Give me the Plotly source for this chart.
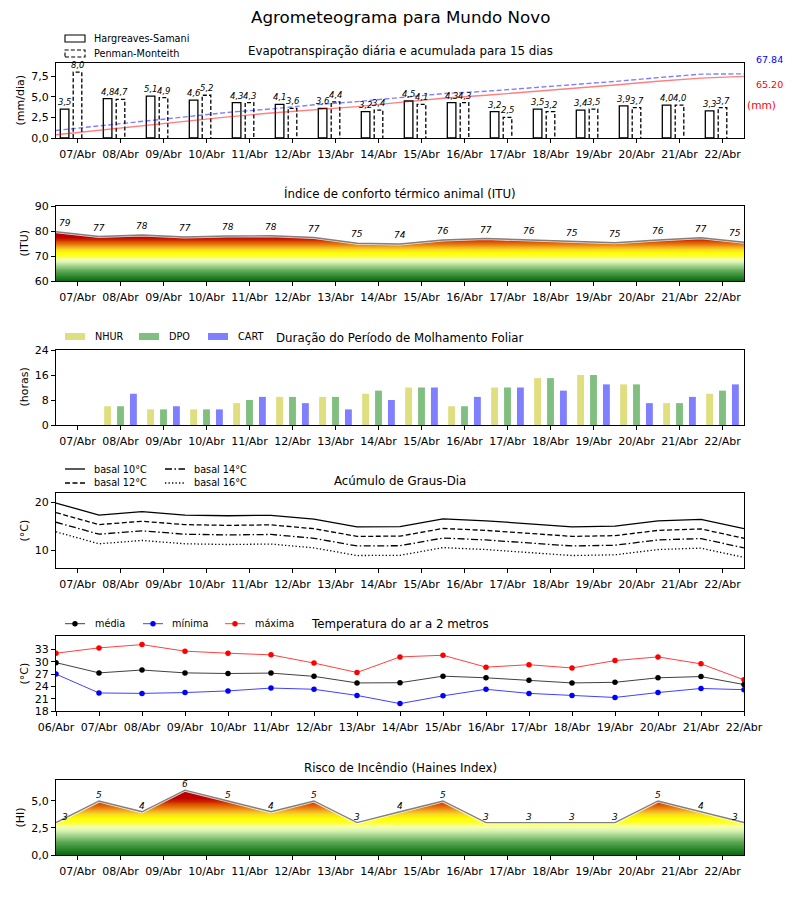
import plotly.graph_objects as go

# ---------------- data ----------------
dias_bar = ['07/Abr', '08/Abr', '09/Abr', '10/Abr', '11/Abr', '12/Abr', '13/Abr', '14/Abr',
            '15/Abr', '16/Abr', '17/Abr', '18/Abr', '19/Abr', '20/Abr', '21/Abr', '22/Abr']
dias_temp = ['06/Abr'] + dias_bar

et_hs = [3.5, 4.8, 5.1, 4.6, 4.3, 4.1, 3.6, 3.2, 4.5, 4.3, 3.2, 3.5, 3.4, 3.9, 4.0, 3.3]
et_pm = [8.0, 4.7, 4.9, 5.2, 4.3, 3.6, 4.4, 3.4, 4.1, 4.3, 2.5, 3.2, 3.5, 3.7, 4.0, 3.7]
cum_hs = [3.5, 8.3, 13.4, 18.0, 22.3, 26.4, 30.0, 33.2, 37.7, 42.0, 45.2, 48.7, 52.1, 56.0, 60.0, 63.3, 65.20]
cum_pm = [8.0, 12.7, 17.6, 22.8, 27.1, 30.7, 35.1, 38.5, 42.6, 46.9, 49.4, 52.6, 56.1, 59.8, 63.8, 67.5, 67.84]

itu = [79.7, 77.8, 78.4, 77.6, 78.0, 78.1, 77.4, 75.1, 74.8, 76.4, 77.0, 76.4, 75.6, 75.3, 76.4, 77.3, 75.5]

nhur = [0, 6, 5, 5, 7, 9, 9, 10, 12, 6, 12, 15, 16, 13, 7, 10]
dpo = [0, 6, 5, 5, 8, 9, 9, 11, 12, 6, 12, 15, 16, 13, 7, 11]
cart = [0, 10, 6, 5, 9, 7, 5, 8, 12, 9, 12, 11, 13, 7, 9, 13]

gd10 = [19.8, 17.3, 18.0, 17.3, 17.15, 17.25, 16.45, 14.85, 14.9, 16.5, 16.1, 15.5, 14.85, 15.0, 16.1, 16.4, 14.45]
gd12 = [17.8, 15.3, 16.0, 15.3, 15.15, 15.25, 14.45, 12.85, 12.9, 14.5, 14.1, 13.5, 12.85, 13.0, 14.1, 14.4, 12.45]
gd14 = [15.8, 13.3, 14.0, 13.3, 13.15, 13.25, 12.45, 10.85, 10.9, 12.5, 12.1, 11.5, 10.85, 11.0, 12.1, 12.4, 10.45]
gd16 = [13.8, 11.3, 12.0, 11.3, 11.15, 11.25, 10.45, 8.85, 8.9, 10.5, 10.1, 9.5, 8.85, 9.0, 10.1, 10.4, 8.45]

t_med = [29.8, 27.3, 28.0, 27.3, 27.15, 27.25, 26.45, 24.85, 24.9, 26.5, 26.1, 25.5, 24.85, 25.0, 26.1, 26.4, 24.45]
t_min = [27.0, 22.4, 22.3, 22.5, 22.9, 23.6, 23.3, 21.8, 19.8, 21.7, 23.3, 22.3, 21.8, 21.3, 22.5, 23.5, 23.2]
t_max = [32.1, 33.4, 34.2, 32.6, 32.1, 31.7, 29.7, 27.4, 31.2, 31.6, 28.7, 29.3, 28.5, 30.3, 31.2, 29.5, 25.6]

haines = [3, 5, 4, 6, 5, 4, 5, 3, 4, 5, 3, 3, 3, 3, 5, 4, 3]

# ---------------- style ----------------
FONT = 'DejaVu Sans'
W, H = 800, 900
XL, XR = 56, 744
PANELS = [(63, 138), (206, 281), (350, 425), (493, 568), (636, 711), (780, 855)]
GRAD = [[0.0, '#0b670b'], [0.1, '#2e8a2e'], [0.2, '#5fa955'], [0.3, '#a2d48e'],
        [0.375, '#d9f3b2'], [0.43, '#f4ffb0'], [0.5, '#ffff30'], [0.56, '#ffff00'],
        [0.625, '#f8dc20'], [0.675, '#f4b020'], [0.725, '#e88010'], [0.775, '#dc5800'],
        [0.825, '#cc2200'], [0.875, '#c00000'], [1.0, '#b00000']]


def px(x):
    return x / W


def py(y):
    return 1 - y / H


fig = go.Figure()
n = len(dias_bar)
xs = list(range(len(dias_temp)))

# ---- panel 1: ET ----
fig.add_trace(go.Bar(x=[i + 0.2 for i in range(n)], y=et_hs, width=0.2,
                     marker=dict(color='white', line=dict(color='black', width=1.3)),
                     xaxis='x', yaxis='y', showlegend=False))
ox, oy = [], []
for i, v in enumerate(et_pm):
    ox += [i + 0.4, i + 0.4, i + 0.6, i + 0.6, None]
    oy += [0, v, v, 0, None]
fig.add_trace(go.Scatter(x=ox, y=oy, mode='lines', fill='toself', fillcolor='white',
                         line=dict(color='black', width=1.3, dash='4px,2.2px'),
                         xaxis='x', yaxis='y', showlegend=False))
fig.add_trace(go.Scatter(x=xs, y=cum_hs, mode='lines', line=dict(color='rgba(255,0,0,0.5)', width=1.4),
                         xaxis='x', yaxis='y7', showlegend=False))
fig.add_trace(go.Scatter(x=xs, y=cum_pm, mode='lines',
                         line=dict(color='rgba(0,0,255,0.5)', width=1.4, dash='5px,2.5px'),
                         xaxis='x', yaxis='y7', showlegend=False))

ann = []
for i, (a, b) in enumerate(zip(et_hs, et_pm)):
    for xv, v in ((i + 0.2, a), (i + 0.5, b)):
        ann.append(dict(x=xv, y=v, xref='x', yref='y', text=f'{v:.1f}'.replace('.', ','),
                        showarrow=False, yshift=7, font=dict(family=FONT, size=8.5, style='italic', color='black')))

# ---- panel 2: ITU ----
fig.add_trace(go.Scatter(x=xs, y=itu, mode='lines', fill='tozeroy', line=dict(width=0),
                         fillgradient=dict(type='vertical', colorscale=GRAD, start=60, stop=80),
                         xaxis='x2', yaxis='y2', showlegend=False))
fig.add_trace(go.Scatter(x=xs, y=itu, mode='lines', line=dict(color='rgba(255,255,255,0.8)', width=3.2),
                         xaxis='x2', yaxis='y2', showlegend=False))
fig.add_trace(go.Scatter(x=xs, y=itu, mode='lines', line=dict(color='#808080', width=1.4),
                         xaxis='x2', yaxis='y2', showlegend=False))
last = len(xs) - 1
for i, v in enumerate(itu):
    xv = i + (0.2 if i == 0 else (-0.2 if i == last else 0))
    ann.append(dict(x=xv, y=v, xref='x2', yref='y2', text=str(int(v)), showarrow=False, yshift=9,
                    font=dict(family=FONT, size=9, style='italic', color='black')))

# ---- panel 3: molhamento ----
for vals, off, col in ((nhur, 0.2, '#dfdf80'), (dpo, 0.5, '#80bf80'), (cart, 0.8, '#8080ff')):
    fig.add_trace(go.Bar(x=[i + off for i in range(n)], y=vals, width=0.16,
                         marker=dict(color=col, line=dict(width=0)),
                         xaxis='x3', yaxis='y3', showlegend=False))

# ---- panel 4: graus-dia ----
GD_DASH = ['solid', '5px,2.5px', '7px,2.5px,1.5px,2.5px', '1.3px,2.2px']
for vals, d in zip((gd10, gd12, gd14, gd16), GD_DASH):
    fig.add_trace(go.Scatter(x=xs, y=vals, mode='lines', line=dict(color='black', width=1.3, dash=d),
                             xaxis='x4', yaxis='y4', showlegend=False))

# ---- panel 5: temperatura ----
for vals, lc, mc in ((t_med, 'rgba(0,0,0,0.75)', 'black'), (t_min, 'rgba(0,0,255,0.75)', '#0000ff'),
                     (t_max, 'rgba(255,0,0,0.75)', '#ff0000')):
    fig.add_trace(go.Scatter(x=xs, y=vals, mode='lines+markers', line=dict(color=lc, width=1),
                             marker=dict(color=mc, size=5.5), xaxis='x5', yaxis='y5', showlegend=False))

# ---- panel 6: haines ----
fig.add_trace(go.Scatter(x=xs, y=haines, mode='lines', fill='tozeroy', line=dict(width=0),
                         fillgradient=dict(type='vertical', colorscale=GRAD, start=0, stop=6),
                         xaxis='x6', yaxis='y6', showlegend=False))
fig.add_trace(go.Scatter(x=xs, y=haines, mode='lines', line=dict(color='rgba(255,255,255,0.8)', width=3.2),
                         xaxis='x6', yaxis='y6', showlegend=False))
fig.add_trace(go.Scatter(x=xs, y=haines, mode='lines', line=dict(color='#808080', width=1.4),
                         xaxis='x6', yaxis='y6', showlegend=False))
for i, v in enumerate(haines):
    xv = i + (0.2 if i == 0 else (-0.2 if i == last else 0))
    ann.append(dict(x=xv, y=v, xref='x6', yref='y6', text=str(v), showarrow=False, yshift=6,
                    font=dict(family=FONT, size=9, style='italic', color='black')))

# ---------------- axes ----------------
layout = dict(width=W, height=H, margin=dict(l=0, r=0, t=0, b=0, pad=0, autoexpand=False),
              paper_bgcolor='white', plot_bgcolor='white', barmode='overlay',
              font=dict(family=FONT, color='black'), showlegend=False)
ycfg = [
    dict(range=[0, 9.12], tickvals=[0, 2.5, 5, 7.5], ticktext=['0,0', '2,5', '5,0', '7,5']),
    dict(range=[60, 90], tickvals=[60, 70, 80, 90], ticktext=['60', '70', '80', '90']),
    dict(range=[0, 24], tickvals=[0, 8, 16, 24], ticktext=['0', '8', '16', '24']),
    dict(range=[6.25, 21.9], tickvals=[10, 20], ticktext=['10', '20']),
    dict(range=[18, 36.3], tickvals=[18, 21, 24, 27, 30, 33], ticktext=['18', '21', '24', '27', '30', '33']),
    dict(range=[0, 6.94], tickvals=[0, 2.5, 5], ticktext=['0,0', '2,5', '5,0']),
]
for k, (top, bot) in enumerate(PANELS, start=1):
    sfx = '' if k == 1 else str(k)
    if k == 5:
        tv, tt = list(range(len(dias_temp))), dias_temp
    else:
        tv, tt = [i + 0.5 for i in range(n)], dias_bar
    layout['xaxis' + sfx] = dict(domain=[px(XL), px(XR)], range=[0, 16], anchor='y' + sfx,
                                 tickvals=tv, ticktext=tt, showline=True, mirror=True, linecolor='black',
                                 linewidth=1, ticks='outside', ticklen=4, tickcolor='black',
                                 showgrid=False, zeroline=False, tickfont=dict(size=11, family=FONT),
                                 ticklabelstandoff=2, automargin=False)
    yc = ycfg[k - 1]
    layout['yaxis' + sfx] = dict(domain=[py(bot), py(top)], anchor='x' + sfx, range=yc['range'],
                                 tickvals=yc['tickvals'], ticktext=yc['ticktext'], showline=True,
                                 mirror=True, linecolor='black', linewidth=1, ticks='outside', ticklen=4,
                                 tickcolor='black', showgrid=False, zeroline=False,
                                 tickfont=dict(size=11, family=FONT), automargin=False)
layout['yaxis7'] = dict(overlaying='y', anchor='x', range=[0, 79.3], visible=False, showgrid=False,
                        zeroline=False, automargin=False)

# ---------------- texts ----------------
def txt(x, y, s, size, color='black', xanchor='center', angle=0, style='normal'):
    ann.append(dict(x=px(x), y=py(y), xref='paper', yref='paper', text=s, showarrow=False,
                    xanchor=xanchor, yanchor='middle', textangle=angle,
                    font=dict(family=FONT, size=size, color=color, style=style)))


txt(400, 17, 'Agrometeograma para Mundo Novo', 16.7)
titles = ['Evapotranspiração diária e acumulada para 15 dias', 'Índice de conforto térmico animal (ITU)',
          'Duração do Período de Molhamento Foliar', 'Acúmulo de Graus-Dia', 'Temperatura do ar a 2 metros',
          'Risco de Incêndio (Haines Index)']
ytitles = [('(mm/dia)', 20), ('(ITU)', 24), ('(horas)', 24), ('(°C)', 24), ('(°C)', 24), ('(HI)', 20)]
for (top, bot), t, (yt, yx) in zip(PANELS, titles, ytitles):
    txt(400, top - 12.5, t, 11.8)
    txt(yx, (top + bot) / 2, yt, 11, angle=-90)

txt(769, 59, '67.84', 9.5, color='blue')
txt(769, 84, '65.20', 9.5, color='red')
txt(761, 105, '(mm)', 10.6, color='red')

shapes = []
LEG = 9.7
# ET legend
shapes.append(dict(type='rect', xref='paper', yref='paper', x0=px(65), x1=px(85), y0=py(42), y1=py(35),
                   line=dict(color='black', width=1.1), fillcolor='white'))
shapes.append(dict(type='rect', xref='paper', yref='paper', x0=px(65), x1=px(85), y0=py(57), y1=py(50),
                   line=dict(color='black', width=1.1, dash='4px,2.2px'), fillcolor='white'))
txt(92, 38.5, 'Hargreaves-Samani', LEG, xanchor='left')
txt(92, 53.5, 'Penman-Monteith', LEG, xanchor='left')
# molhamento legend
for (x0, lab, col, tx) in ((65, 'NHUR', '#dfdf80', 93), (139, 'DPO', '#80bf80', 167), (208, 'CART', '#8080ff', 236)):
    shapes.append(dict(type='rect', xref='paper', yref='paper', x0=px(x0), x1=px(x0 + 20), y0=py(340),
                       y1=py(333), line=dict(width=0), fillcolor=col))
    txt(tx, 336.5, lab, LEG, xanchor='left')
# graus-dia legend
for (x0, y0, lab, d) in ((65, 469, 'basal 10°C', GD_DASH[0]), (65, 483, 'basal 12°C', GD_DASH[1]),
                         (165, 469, 'basal 14°C', GD_DASH[2]), (165, 483, 'basal 16°C', GD_DASH[3])):
    shapes.append(dict(type='line', xref='paper', yref='paper', x0=px(x0), x1=px(x0 + 20), y0=py(y0),
                       y1=py(y0), line=dict(color='black', width=1.3, dash=d)))
    txt(x0 + 27, y0, lab, LEG, xanchor='left')
# temperatura legend
for (x0, lab, lc, mc, tx) in ((65, 'média', 'rgba(0,0,0,0.75)', 'black', 93),
                              (143, 'mínima', 'rgba(0,0,255,0.75)', '#0000ff', 170),
                              (225, 'máxima', 'rgba(255,0,0,0.75)', '#ff0000', 253)):
    shapes.append(dict(type='line', xref='paper', yref='paper', x0=px(x0), x1=px(x0 + 20), y0=py(623.7),
                       y1=py(623.7), line=dict(color=lc, width=1)))
    shapes.append(dict(type='circle', xref='paper', yref='paper', x0=px(x0 + 7.3), x1=px(x0 + 12.7),
                       y0=py(626.4), y1=py(621), line=dict(width=0), fillcolor=mc))
    txt(tx, 623.7, lab, LEG, xanchor='left')

layout['annotations'] = ann
layout['shapes'] = shapes
fig.update_layout(**layout)
fig.write_html('out.html', config={'displayModeBar': False},
               post_script="document.body.style.margin='0px';document.body.style.overflow='hidden';")
